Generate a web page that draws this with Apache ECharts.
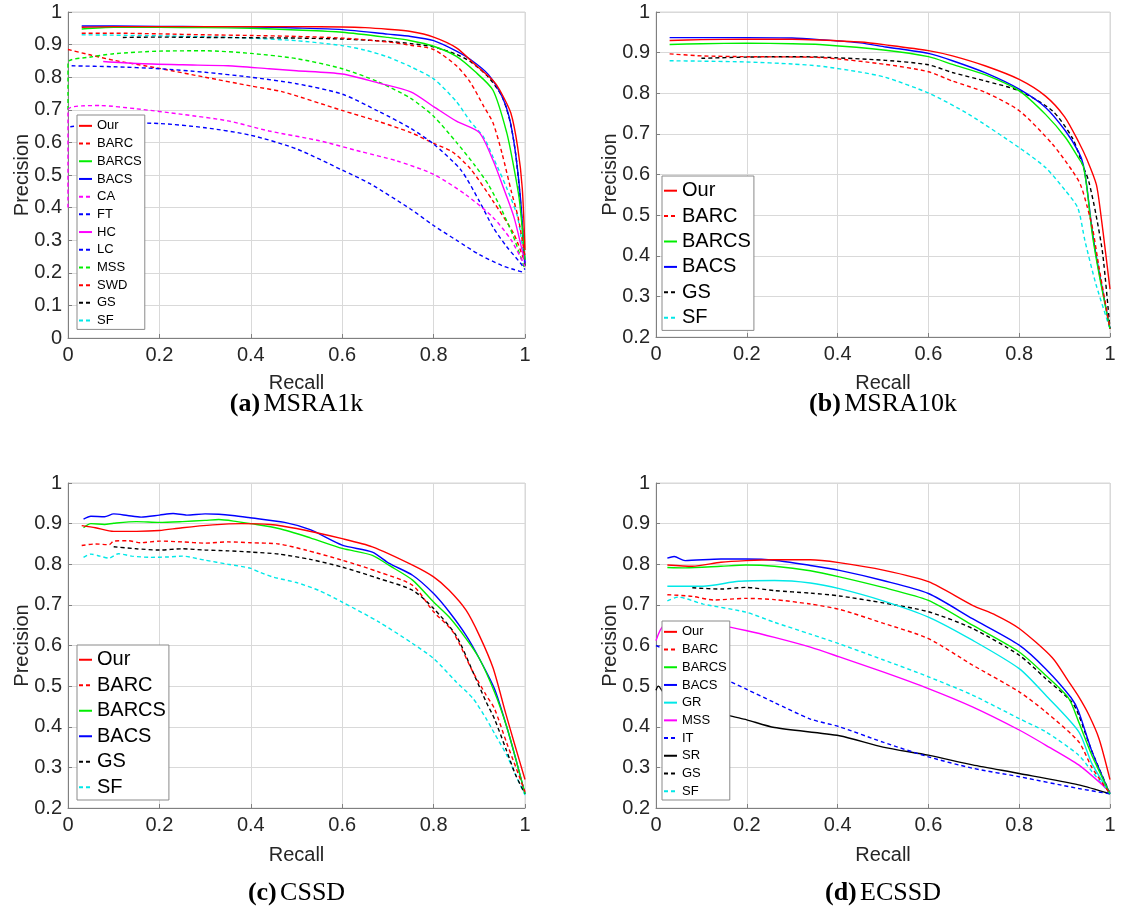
<!DOCTYPE html>
<html>
<head>
<meta charset="utf-8">
<script src="https://cdn.jsdelivr.net/npm/echarts@6/dist/echarts.min.js"></script>
<style>
html,body{margin:0;padding:0;background:#fff;}
#c{width:1121px;height:918px;}
</style>
</head>
<body>
<div id="c"></div>
<script>
// ---------- data: [recall, precision] ----------
// (a) MSRA1k
const a_Our   = [[0.03,0.953],[0.1,0.955],[0.2,0.955],[0.3,0.955],[0.4,0.955],[0.5,0.955],[0.6,0.954],[0.65,0.952],[0.7,0.947],[0.75,0.94],[0.8,0.923],[0.85,0.89],[0.89,0.84],[0.93,0.79],[0.945,0.76],[0.969,0.69],[0.984,0.585],[0.994,0.46],[1.0,0.27]];
const a_BARC  = [[0.03,0.935],[0.1,0.935],[0.2,0.933],[0.3,0.93],[0.4,0.928],[0.5,0.925],[0.6,0.92],[0.7,0.908],[0.75,0.898],[0.8,0.885],[0.85,0.835],[0.88,0.785],[0.91,0.71],[0.93,0.66],[0.95,0.565],[0.97,0.45],[0.985,0.37],[1.0,0.25]];
const a_BARCS = [[0.03,0.948],[0.1,0.953],[0.2,0.953],[0.3,0.952],[0.4,0.95],[0.5,0.945],[0.6,0.938],[0.7,0.922],[0.75,0.912],[0.8,0.895],[0.85,0.864],[0.89,0.818],[0.93,0.76],[0.96,0.63],[0.976,0.52],[0.988,0.42],[1.0,0.24]];
const a_BACS  = [[0.03,0.957],[0.1,0.957],[0.2,0.956],[0.3,0.955],[0.4,0.954],[0.5,0.951],[0.6,0.946],[0.7,0.932],[0.75,0.925],[0.8,0.912],[0.85,0.88],[0.88,0.855],[0.92,0.808],[0.95,0.74],[0.965,0.68],[0.978,0.58],[0.99,0.43],[1.0,0.23]];
const a_CA    = [[0,0.40],[0,0.70],[0.03,0.712],[0.07,0.713],[0.15,0.703],[0.25,0.686],[0.35,0.666],[0.44,0.635],[0.55,0.605],[0.64,0.572],[0.72,0.543],[0.8,0.502],[0.87,0.44],[0.93,0.37],[0.97,0.3],[1.0,0.22]];
const a_FT    = [[0.008,0.835],[0.1,0.832],[0.2,0.826],[0.3,0.815],[0.4,0.8],[0.5,0.78],[0.6,0.748],[0.68,0.695],[0.75,0.643],[0.8,0.595],[0.86,0.515],[0.9,0.42],[0.93,0.34],[0.96,0.28],[0.99,0.23],[1.0,0.21]];
const a_HC    = [[0.077,0.848],[0.15,0.842],[0.25,0.838],[0.35,0.835],[0.44,0.826],[0.5,0.82],[0.6,0.81],[0.68,0.782],[0.75,0.755],[0.8,0.71],[0.85,0.665],[0.9,0.63],[0.93,0.545],[0.953,0.46],[0.976,0.37],[1.0,0.23]];
const a_LC    = [[0.005,0.648],[0.1,0.66],[0.2,0.658],[0.3,0.645],[0.4,0.622],[0.5,0.58],[0.6,0.515],[0.66,0.474],[0.75,0.395],[0.8,0.345],[0.85,0.3],[0.9,0.256],[0.95,0.222],[0.976,0.21],[1.0,0.2]];
const a_MSS   = [[0,0.70],[0,0.845],[0.05,0.862],[0.1,0.872],[0.2,0.88],[0.3,0.881],[0.4,0.873],[0.5,0.857],[0.6,0.826],[0.68,0.785],[0.75,0.735],[0.8,0.68],[0.85,0.6],[0.89,0.53],[0.92,0.47],[0.95,0.39],[0.975,0.31],[1.0,0.21]];
const a_SWD   = [[0,0.885],[0.05,0.868],[0.1,0.852],[0.2,0.827],[0.3,0.8],[0.4,0.773],[0.47,0.755],[0.6,0.698],[0.68,0.664],[0.75,0.63],[0.8,0.597],[0.84,0.572],[0.88,0.52],[0.93,0.42],[0.976,0.318],[1.0,0.23]];
const a_GS    = [[0.12,0.922],[0.2,0.923],[0.3,0.922],[0.4,0.921],[0.5,0.92],[0.6,0.917],[0.7,0.91],[0.75,0.903],[0.8,0.893],[0.85,0.87],[0.88,0.848],[0.92,0.8],[0.95,0.74],[0.968,0.66],[0.98,0.56],[0.99,0.42],[1.0,0.22]];
const a_SF    = [[0.03,0.93],[0.1,0.929],[0.2,0.927],[0.3,0.924],[0.4,0.92],[0.5,0.912],[0.6,0.897],[0.65,0.883],[0.7,0.862],[0.75,0.832],[0.8,0.795],[0.85,0.725],[0.88,0.665],[0.91,0.615],[0.93,0.555],[0.96,0.46],[0.984,0.37],[1.0,0.22]];

// (b) MSRA10k
const b_Our   = [[0.03,0.93],[0.1,0.932],[0.2,0.933],[0.3,0.933],[0.36,0.931],[0.45,0.926],[0.506,0.919],[0.6,0.905],[0.653,0.892],[0.726,0.867],[0.8,0.834],[0.858,0.793],[0.9,0.742],[0.931,0.68],[0.95,0.635],[0.97,0.575],[0.98,0.5],[0.99,0.41],[1.0,0.318]];
const b_BARC  = [[0.03,0.897],[0.1,0.892],[0.2,0.89],[0.36,0.888],[0.506,0.871],[0.6,0.853],[0.653,0.83],[0.726,0.802],[0.8,0.757],[0.873,0.675],[0.917,0.609],[0.935,0.575],[0.95,0.52],[0.962,0.465],[0.976,0.37],[1.0,0.22]];
const b_BARCS = [[0.03,0.92],[0.1,0.922],[0.2,0.923],[0.3,0.922],[0.36,0.92],[0.506,0.906],[0.6,0.89],[0.653,0.871],[0.726,0.845],[0.8,0.806],[0.858,0.748],[0.902,0.691],[0.931,0.64],[0.941,0.621],[0.949,0.568],[0.961,0.453],[0.976,0.354],[1.0,0.22]];
const b_BACS  = [[0.03,0.937],[0.1,0.937],[0.2,0.937],[0.3,0.936],[0.36,0.932],[0.45,0.924],[0.506,0.914],[0.6,0.898],[0.653,0.88],[0.726,0.85],[0.8,0.81],[0.858,0.765],[0.902,0.707],[0.931,0.655],[0.941,0.625],[0.949,0.57],[0.961,0.46],[0.976,0.36],[1.0,0.22]];
const b_GS    = [[0.1,0.886],[0.2,0.889],[0.3,0.89],[0.36,0.889],[0.506,0.881],[0.6,0.87],[0.653,0.851],[0.726,0.83],[0.8,0.806],[0.873,0.757],[0.917,0.69],[0.941,0.62],[0.953,0.584],[0.969,0.502],[0.984,0.404],[1.0,0.22]];
const b_SF    = [[0.03,0.88],[0.1,0.879],[0.2,0.877],[0.3,0.872],[0.36,0.867],[0.45,0.852],[0.506,0.839],[0.601,0.8],[0.689,0.748],[0.8,0.666],[0.858,0.617],[0.902,0.56],[0.929,0.518],[0.945,0.436],[0.969,0.33],[1.0,0.22]];

// (c) CSSD
const c_Our   = [[0.03,0.895],[0.06,0.89],[0.1,0.881],[0.15,0.881],[0.2,0.883],[0.25,0.89],[0.317,0.897],[0.38,0.9],[0.442,0.898],[0.5,0.888],[0.6,0.863],[0.666,0.843],[0.754,0.798],[0.8,0.769],[0.834,0.736],[0.871,0.687],[0.9,0.625],[0.93,0.545],[0.957,0.436],[0.976,0.362],[1.0,0.27]];
const c_BARC  = [[0.03,0.846],[0.06,0.85],[0.09,0.848],[0.1,0.857],[0.13,0.858],[0.16,0.853],[0.2,0.857],[0.25,0.855],[0.3,0.852],[0.35,0.855],[0.4,0.853],[0.461,0.85],[0.52,0.835],[0.6,0.81],[0.68,0.781],[0.754,0.748],[0.8,0.683],[0.842,0.634],[0.886,0.535],[0.915,0.478],[0.933,0.445],[0.96,0.36],[0.98,0.3],[1.0,0.24]];
const c_BARCS = [[0.034,0.89],[0.05,0.9],[0.08,0.898],[0.1,0.901],[0.15,0.905],[0.2,0.903],[0.25,0.905],[0.3,0.908],[0.33,0.91],[0.37,0.905],[0.4,0.9],[0.461,0.888],[0.53,0.865],[0.6,0.839],[0.666,0.822],[0.703,0.797],[0.754,0.761],[0.8,0.707],[0.834,0.67],[0.871,0.617],[0.9,0.568],[0.933,0.486],[0.96,0.4],[0.98,0.32],[1.0,0.235]];
const c_BACS  = [[0.034,0.911],[0.05,0.918],[0.08,0.917],[0.1,0.924],[0.13,0.92],[0.16,0.916],[0.2,0.921],[0.23,0.925],[0.26,0.921],[0.3,0.924],[0.33,0.923],[0.36,0.92],[0.395,0.915],[0.474,0.903],[0.53,0.885],[0.6,0.847],[0.666,0.83],[0.703,0.802],[0.754,0.773],[0.8,0.728],[0.834,0.683],[0.871,0.625],[0.9,0.568],[0.933,0.494],[0.96,0.4],[0.98,0.32],[1.0,0.235]];
const c_GS    = [[0.1,0.843],[0.15,0.838],[0.2,0.835],[0.25,0.838],[0.3,0.835],[0.35,0.833],[0.4,0.83],[0.461,0.825],[0.53,0.812],[0.6,0.793],[0.68,0.765],[0.754,0.736],[0.8,0.691],[0.849,0.625],[0.886,0.535],[0.915,0.461],[0.933,0.42],[0.96,0.34],[0.98,0.28],[1.0,0.235]];
const c_SF    = [[0.034,0.817],[0.05,0.825],[0.07,0.82],[0.09,0.815],[0.11,0.826],[0.14,0.82],[0.18,0.817],[0.22,0.818],[0.25,0.82],[0.3,0.81],[0.35,0.8],[0.4,0.79],[0.42,0.78],[0.45,0.768],[0.5,0.755],[0.55,0.735],[0.6,0.707],[0.68,0.658],[0.754,0.605],[0.8,0.568],[0.849,0.511],[0.886,0.47],[0.915,0.42],[0.933,0.384],[0.96,0.33],[0.98,0.28],[1.0,0.232]];

// (d) ECSSD
const d_Our   = [[0.025,0.798],[0.08,0.795],[0.143,0.805],[0.198,0.809],[0.261,0.811],[0.34,0.811],[0.403,0.804],[0.503,0.785],[0.6,0.757],[0.697,0.699],[0.748,0.675],[0.8,0.642],[0.873,0.57],[0.909,0.511],[0.931,0.474],[0.953,0.43],[0.976,0.37],[1.0,0.27]];
const d_BARC  = [[0.025,0.725],[0.08,0.721],[0.127,0.712],[0.198,0.716],[0.261,0.713],[0.34,0.702],[0.404,0.689],[0.5,0.655],[0.6,0.617],[0.697,0.552],[0.8,0.486],[0.858,0.437],[0.931,0.363],[0.96,0.3],[1.0,0.235]];
const d_BARCS = [[0.025,0.792],[0.064,0.791],[0.143,0.795],[0.198,0.798],[0.261,0.795],[0.34,0.784],[0.404,0.769],[0.5,0.743],[0.6,0.711],[0.697,0.65],[0.8,0.584],[0.858,0.527],[0.909,0.47],[0.931,0.412],[0.96,0.33],[1.0,0.235]];
const d_BACS  = [[0.025,0.815],[0.04,0.819],[0.064,0.809],[0.143,0.813],[0.198,0.813],[0.261,0.81],[0.34,0.797],[0.404,0.785],[0.5,0.76],[0.6,0.728],[0.697,0.666],[0.8,0.601],[0.858,0.543],[0.914,0.472],[0.931,0.437],[0.96,0.34],[1.0,0.235]];
const d_GR    = [[0.025,0.746],[0.104,0.746],[0.182,0.758],[0.261,0.76],[0.34,0.754],[0.404,0.74],[0.5,0.71],[0.6,0.67],[0.697,0.613],[0.8,0.543],[0.858,0.478],[0.931,0.388],[0.96,0.31],[1.0,0.235]];
const d_MSS   = [[0,0.612],[0.017,0.649],[0.072,0.657],[0.143,0.649],[0.198,0.637],[0.261,0.62],[0.34,0.596],[0.404,0.572],[0.5,0.535],[0.6,0.494],[0.697,0.449],[0.8,0.392],[0.858,0.355],[0.931,0.306],[1.0,0.24]];
const d_IT    = [[0,0.6],[0.08,0.56],[0.16,0.513],[0.2,0.492],[0.26,0.46],[0.34,0.419],[0.404,0.4],[0.5,0.362],[0.6,0.326],[0.697,0.298],[0.8,0.277],[0.931,0.248],[1.0,0.235]];
const d_SR    = [[0,0.49],[0.005,0.5],[0.02,0.48],[0.08,0.455],[0.16,0.428],[0.2,0.417],[0.261,0.398],[0.404,0.378],[0.5,0.35],[0.6,0.33],[0.697,0.306],[0.8,0.285],[0.931,0.257],[1.0,0.235]];
const d_GS    = [[0.08,0.742],[0.143,0.739],[0.198,0.743],[0.261,0.735],[0.34,0.729],[0.404,0.722],[0.5,0.705],[0.6,0.683],[0.697,0.642],[0.8,0.576],[0.858,0.519],[0.916,0.461],[0.931,0.429],[0.96,0.34],[1.0,0.235]];
const d_SF    = [[0.025,0.71],[0.049,0.719],[0.104,0.702],[0.198,0.682],[0.261,0.657],[0.34,0.628],[0.404,0.604],[0.5,0.565],[0.6,0.523],[0.697,0.478],[0.8,0.42],[0.858,0.388],[0.931,0.33],[0.96,0.29],[1.0,0.235]];

// axis ticks
const xTicks = { min: 0, max: 1, interval: 0.2 };
const yTicksA = { min: 0, max: 1, interval: 0.1 };
const yTicksB = { min: 0.2, max: 1, interval: 0.1 };

const captions = [
  { tag: '(a)', name: 'MSRA1k' },
  { tag: '(b)', name: 'MSRA10k' },
  { tag: '(c)', name: 'CSSD' },
  { tag: '(d)', name: 'ECSSD' }
];
const xName = 'Recall';
const yName = 'Precision';

// ---------- styling / layout ----------
const RED = '#ff0000', GREEN = '#00ee00', BLUE = '#0000ff', MAG = '#ff00ff', CYAN = '#00e8e8', BLACK = '#000000';
const panels = [
  { key: 'a', grid: { left: 68, top: 12, width: 457, height: 326 }, y: yTicksA, capY: 404, nameY: 383,
    legend: { left: 77, top: 115, fontSize: 13, lh: 17.7 },
    series: [
      ['Our', a_Our, RED, false], ['BARC', a_BARC, RED, true], ['BARCS', a_BARCS, GREEN, false],
      ['BACS', a_BACS, BLUE, false], ['CA', a_CA, MAG, true], ['FT', a_FT, BLUE, true],
      ['HC', a_HC, MAG, false], ['LC', a_LC, BLUE, true], ['MSS', a_MSS, GREEN, true],
      ['SWD', a_SWD, RED, true], ['GS', a_GS, BLACK, true], ['SF', a_SF, CYAN, true]
    ] },
  { key: 'b', grid: { left: 656, top: 12, width: 454, height: 325 }, y: yTicksB, capY: 404, nameY: 383,
    legend: { left: 662, top: 176, fontSize: 20, lh: 25.4 },
    series: [
      ['Our', b_Our, RED, false], ['BARC', b_BARC, RED, true], ['BARCS', b_BARCS, GREEN, false],
      ['BACS', b_BACS, BLUE, false], ['GS', b_GS, BLACK, true], ['SF', b_SF, CYAN, true]
    ] },
  { key: 'c', grid: { left: 68, top: 483, width: 457, height: 325 }, y: yTicksB, capY: 893, nameY: 855,
    legend: { left: 77, top: 645, fontSize: 20, lh: 25.5 },
    series: [
      ['Our', c_Our, RED, false], ['BARC', c_BARC, RED, true], ['BARCS', c_BARCS, GREEN, false],
      ['BACS', c_BACS, BLUE, false], ['GS', c_GS, BLACK, true], ['SF', c_SF, CYAN, true]
    ] },
  { key: 'd', grid: { left: 656, top: 483, width: 454, height: 325 }, y: yTicksB, capY: 893, nameY: 855,
    legend: { left: 662, top: 621, fontSize: 13, lh: 17.7 },
    series: [
      ['Our', d_Our, RED, false], ['BARC', d_BARC, RED, true], ['BARCS', d_BARCS, GREEN, false],
      ['BACS', d_BACS, BLUE, false], ['GR', d_GR, CYAN, false], ['MSS', d_MSS, MAG, false],
      ['IT', d_IT, BLUE, true], ['SR', d_SR, BLACK, false], ['GS', d_GS, BLACK, true], ['SF', d_SF, CYAN, true]
    ] }
];

const FONT = 'Liberation Sans';
const AX = '#808080';
const grids = [], xAxes = [], yAxes = [], series = [], legends = [], graphics = [];

panels.forEach((p, i) => {
  grids.push(Object.assign({ show: true, borderColor: '#d6d6d6', borderWidth: 1, backgroundColor: '#fff' }, p.grid));
  const common = {
    type: 'value', gridIndex: i,
    axisLine: { show: true, onZero: false, lineStyle: { color: AX, width: 1 } },
    axisTick: { show: true, inside: true, length: 4, lineStyle: { color: AX } },
    splitLine: { show: true, lineStyle: { color: '#d9d9d9', width: 1 } },
    axisLabel: { fontFamily: FONT, fontSize: 20, color: '#262626' }
  };
  xAxes.push(Object.assign({}, common, xTicks, { axisLabel: Object.assign({}, common.axisLabel, { margin: 7 }) }));
  yAxes.push(Object.assign({}, common, p.y, { axisLabel: Object.assign({}, common.axisLabel, { margin: 6 }) }));

  const names = [];
  p.series.forEach(([n, data, color, dashed], k) => {
    const full = p.key + '|' + n;
    names.push(full);
    series.push({
      type: 'line', name: full, xAxisIndex: i, yAxisIndex: i, data: data,
      symbol: 'none', showSymbol: false, smooth: 0.25, silent: true, animation: false,
      z: 10 + (p.series.length - k),
      lineStyle: { color: color, width: 1.4, type: dashed ? [4, 3] : 'solid' },
      itemStyle: { color: color }
    });
  });

  legends.push({
    orient: 'vertical', left: p.legend.left, top: p.legend.top, data: names,
    formatter: (nm) => nm.split('|')[1],
    itemWidth: 13, itemHeight: 8, itemGap: 0, selectedMode: false,
    padding: [2, 3, 0, 1],
    borderColor: '#8a8a8a', borderWidth: 1, backgroundColor: '#ffffff',
    itemStyle: { opacity: 0, color: 'rgba(0,0,0,0)', borderWidth: 0 },
    textStyle: { fontFamily: FONT, fontSize: p.legend.fontSize, lineHeight: p.legend.lh, color: '#000' },
    z: 20
  });

  const g = p.grid;
  const cx = g.left + g.width / 2;
  const cy = g.top + g.height / 2;
  // axis names
  graphics.push({ type: 'text', x: cx, y: p.nameY, z: 30,
    style: { text: xName, fontFamily: FONT, fontSize: 20, fill: '#262626', align: 'center', verticalAlign: 'middle' } });
  graphics.push({ type: 'text', x: g.left - 46, y: cy, rotation: Math.PI / 2, z: 30,
    style: { text: yName, fontFamily: FONT, fontSize: 20, fill: '#262626', align: 'center', verticalAlign: 'middle' } });
  // caption
  graphics.push({ type: 'text', x: cx, y: p.capY, z: 30,
    style: { text: '{b|' + captions[i].tag + '} {n|' + captions[i].name + '}',
      align: 'center', verticalAlign: 'middle', fill: '#000',
      rich: {
        b: { fontFamily: 'Liberation Serif', fontSize: 26, fontWeight: 'bold', fill: '#000' },
        n: { fontFamily: 'Liberation Serif', fontSize: 26, fill: '#000' }
      } } });
});

const chart = echarts.init(document.getElementById('c'), null, { renderer: 'canvas' });
chart.setOption({
  animation: false,
  backgroundColor: '#ffffff',
  grid: grids, xAxis: xAxes, yAxis: yAxes, legend: legends, series: series,
  graphic: graphics
});
</script>
</body>
</html>
